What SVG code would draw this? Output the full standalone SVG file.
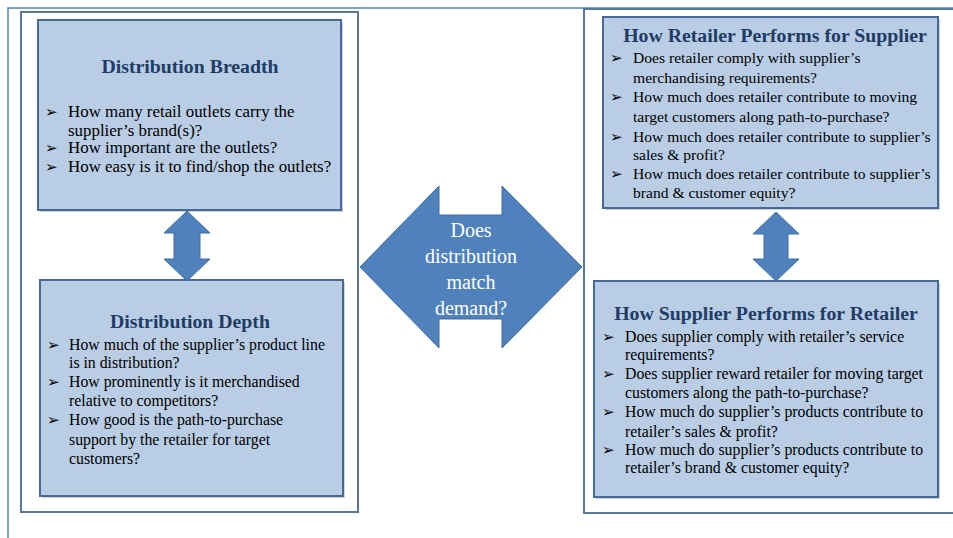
<svg xmlns="http://www.w3.org/2000/svg" width="953" height="538" viewBox="0 0 953 538">
<style>
.frame{fill:none;stroke:#4F82C8;stroke-width:1.5}
.outer{fill:#fff;stroke:#5877A0;stroke-width:2}
.box{fill:#B9CDE5;stroke:#46699A;stroke-width:2}
.shadow{fill:#9AA9BC;opacity:0.5}
.arrow{fill:#4F81BD;stroke:#3F6EA8;stroke-width:1}
.title{font-family:"Liberation Serif",serif;font-weight:bold;font-size:19.8px;fill:#1F3C66;text-anchor:middle}
.body{font-family:"Liberation Serif",serif;font-size:15.8px;fill:#000}
.big{font-size:16.9px}
.tr{font-size:15.6px}
.bul{font-family:"DejaVu Sans",sans-serif;font-size:15px;fill:#000}
.ctext{font-family:"Liberation Serif",serif;font-size:20px;fill:#fff;text-anchor:middle}
</style>
<rect width="953" height="538" fill="#fff"/>
<path class="frame" d="M8,538 V8 H953"/>
<g id="left-panel"><rect class="outer" x="21" y="12" width="337" height="500"/></g>
<g id="right-panel"><rect class="outer" x="584" y="9" width="380" height="504"/></g>

<g id="breadth">
<rect class="shadow" x="40" y="22" width="303" height="190"/>
<rect class="box" x="38" y="20" width="303" height="190"/>
<text class="title" x="190" y="73">Distribution Breadth</text>
<g class="bul"><text x="45" y="117">➢</text><text x="45" y="153">➢</text><text x="45" y="172">➢</text></g>
<g class="body big">
<text x="68" y="117">How many retail outlets carry the</text>
<text x="68" y="135.5">supplier’s brand(s)?</text>
<text x="68" y="153">How important are the outlets?</text>
<text x="68" y="172">How easy is it to find/shop the outlets?</text>
</g>
</g>

<g id="depth">
<rect class="shadow" x="42" y="282" width="303" height="216"/>
<rect class="box" x="40" y="280" width="303" height="216"/>
<text class="title" x="190" y="328">Distribution Depth</text>
<g class="bul"><text x="47" y="350">➢</text><text x="47" y="387">➢</text><text x="47" y="425">➢</text></g>
<g class="body">
<text x="69" y="350">How much of the supplier’s product line</text>
<text x="69" y="368">is in distribution?</text>
<text x="69" y="387">How prominently  is it merchandised</text>
<text x="69" y="406">relative to competitors?</text>
<text x="69" y="425">How good is the path-to-purchase</text>
<text x="69" y="445">support by the retailer for target</text>
<text x="69" y="464">customers?</text>
</g>
</g>

<g id="retailer-performs">
<rect class="shadow" x="605" y="19" width="335" height="191"/>
<rect class="box" x="603" y="17" width="335" height="191"/>
<text class="title" x="775" y="42">How Retailer Performs for Supplier</text>
<g class="bul"><text x="610" y="63">➢</text><text x="610" y="102">➢</text><text x="610" y="142">➢</text><text x="610" y="179">➢</text></g>
<g class="body tr">
<text x="633" y="63">Does retailer comply with supplier’s</text>
<text x="633" y="83">merchandising  requirements?</text>
<text x="633" y="102">How much does retailer contribute to moving</text>
<text x="633" y="122">target customers along path-to-purchase?</text>
<text x="633" y="142">How much does retailer contribute to supplier’s</text>
<text x="633" y="160">sales &amp; profit?</text>
<text x="633" y="179">How much does retailer contribute to supplier’s</text>
<text x="633" y="198">brand &amp; customer equity?</text>
</g>
</g>

<g id="supplier-performs">
<rect class="shadow" x="596" y="283" width="344" height="216"/>
<rect class="box" x="594" y="281" width="344" height="216"/>
<text class="title" x="766" y="320">How Supplier Performs for Retailer</text>
<g class="bul"><text x="602" y="342">➢</text><text x="602" y="379">➢</text><text x="602" y="417">➢</text><text x="602" y="455">➢</text></g>
<g class="body">
<text x="625" y="342">Does supplier comply with retailer’s service</text>
<text x="625" y="360">requirements?</text>
<text x="625" y="379">Does supplier reward retailer for moving target</text>
<text x="625" y="398">customers along the path-to-purchase?</text>
<text x="625" y="417">How much do supplier’s products contribute to</text>
<text x="625" y="437">retailer’s sales &amp; profit?</text>
<text x="625" y="455">How much do supplier’s products contribute to</text>
<text x="625" y="473">retailer’s brand &amp; customer equity?</text>
</g>
</g>

<g id="connectors">
<polygon class="arrow" points="187,211 210,233 200,233 200,259 210,259 187,281 164,259 174,259 174,233 164,233"/>
<polygon class="arrow" points="776,212 799,234 788,234 788,259 799,259 776,281 753,259 764,259 764,234 753,234"/>
</g>

<g id="match">
<polygon class="arrow" points="360,267 439,186 439,215 502,215 502,186 582,267 502,348 502,319 439,319 439,348"/>
<text class="ctext" x="471" y="237">Does</text>
<text class="ctext" x="471" y="263">distribution</text>
<text class="ctext" x="471" y="289">match</text>
<text class="ctext" x="471" y="315">demand?</text>
</g>
</svg>
